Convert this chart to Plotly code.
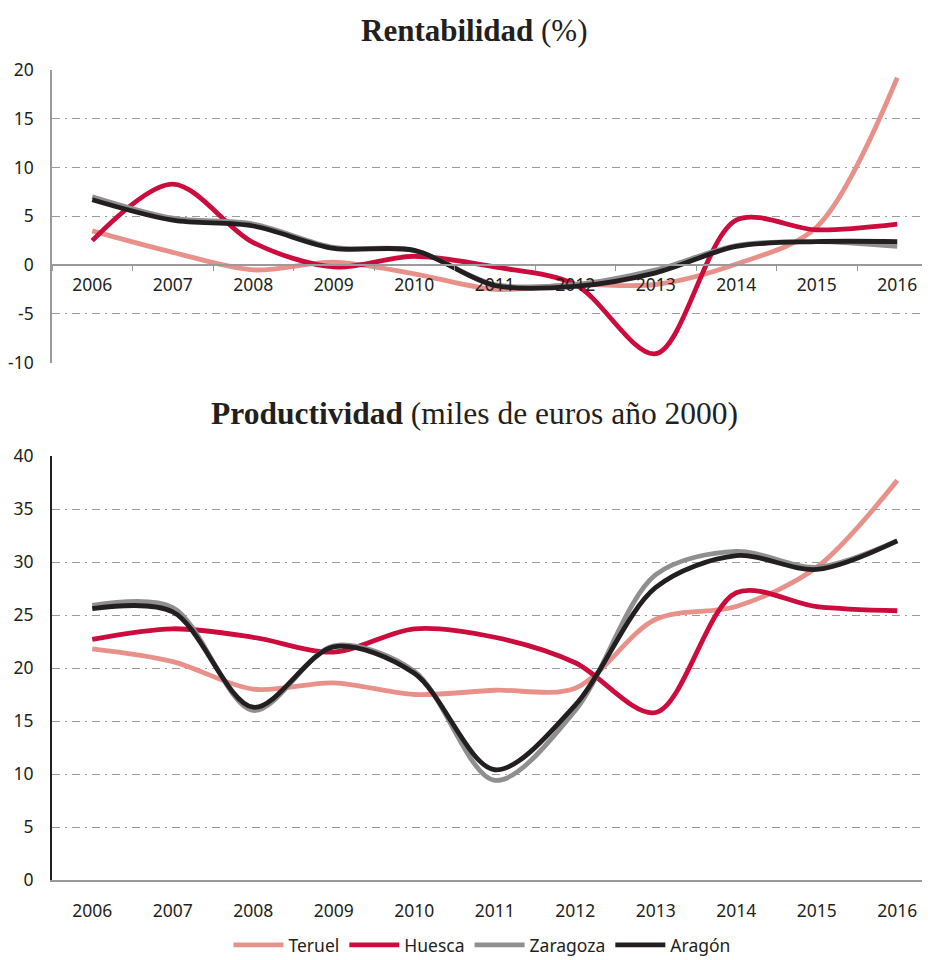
import plotly.graph_objects as go

years = ['2006', '2007', '2008', '2009', '2010', '2011', '2012', '2013', '2014', '2015', '2016']

# Rentabilidad (%)
rent_teruel = [3.5, 1.3, -0.5, 0.3, -0.9, -2.5, -2.0, -2.0, 0.1, 3.9, 19.2]
rent_huesca = [2.5, 8.3, 2.3, -0.2, 0.9, -0.2, -2.0, -9.1, 4.6, 3.6, 4.2]
rent_zaragoza = [7.0, 4.8, 4.2, 1.8, 1.5, -2.0, -2.0, -0.5, 2.0, 2.4, 1.9]
rent_aragon = [6.7, 4.6, 4.0, 1.7, 1.5, -2.1, -2.2, -0.8, 1.9, 2.4, 2.4]
rent_ticks = [-10, -5, 0, 5, 10, 15, 20]
rent_ticktext = ['-10', '-5', '0', '5', '10', '15', '20']

# Productividad (miles de euros año 2000)
prod_teruel = [21.8, 20.6, 18.0, 18.6, 17.5, 17.9, 18.1, 24.6, 25.8, 29.5, 37.7]
prod_huesca = [22.7, 23.7, 22.9, 21.5, 23.7, 22.9, 20.5, 15.8, 27.1, 25.8, 25.4]
prod_zaragoza = [25.9, 25.7, 16.0, 22.1, 19.7, 9.4, 16.0, 28.8, 31.0, 29.5, 32.0]
prod_aragon = [25.6, 25.3, 16.3, 22.0, 19.5, 10.4, 16.5, 27.6, 30.6, 29.3, 32.0]

names = ['Teruel', 'Huesca', 'Zaragoza', 'Aragón']
colors = ['#E8918B', '#CC0C3D', '#8F8F8F', '#231F20']

rent = [rent_teruel, rent_huesca, rent_zaragoza, rent_aragon]
prod = [prod_teruel, prod_huesca, prod_zaragoza, prod_aragon]

fig = go.Figure()
for i in range(4):
    fig.add_trace(go.Scatter(
        x=years, y=rent[i], name=names[i], mode='lines',
        line=dict(color=colors[i], width=4.8, shape='spline', smoothing=0.9),
        xaxis='x', yaxis='y', showlegend=False))
for i in range(4):
    fig.add_trace(go.Scatter(
        x=years, y=prod[i], name=names[i], mode='lines',
        line=dict(color=colors[i], width=4.8, shape='spline', smoothing=0.9),
        xaxis='x2', yaxis='y2', showlegend=True))

# page body has an 8px margin: lay out in page pixels, shifted by 8
OFF = 8
W = 930 - OFF
H = 960.0 - OFF


def py(y_page):
    return 1 - (y_page - OFF) / H


L = 52 - OFF
PW = W - L


def px(x_page):
    return (x_page - OFF - L) / PW


tick_font = dict(family='Noto Sans', size=17.5, color='#231F20')
grid = dict(showgrid=True, gridcolor='#9A9A9A', gridwidth=1.3, griddash='8px,5px,2px,5px')
xr = [-0.5, -0.5 + PW / 80.5]

fig.update_layout(
    width=W, height=int(H),
    margin=dict(l=L, r=0, t=0, b=0, autoexpand=False),
    paper_bgcolor='white', plot_bgcolor='white',
    showlegend=True,
    legend=dict(orientation='h', x=px(482), xanchor='center', y=py(945), yanchor='middle',
                font=dict(family='Noto Sans', size=17.5, color='#231F20'),
                itemwidth=50, tracegroupgap=0, bgcolor='rgba(0,0,0,0)'),
    xaxis=dict(type='category', range=xr, domain=[0, 1], anchor='free',
               position=py(265), showline=True, linecolor='#9A9A9A', linewidth=1.5,
               ticks='outside', tickson='boundaries', ticklen=5, tickcolor='#9A9A9A',
               tickfont=tick_font, ticklabelstandoff=4, showgrid=False, zeroline=False),
    yaxis=dict(domain=[py(362.5), py(70)], range=[-10, 20],
               tickvals=rent_ticks, ticktext=rent_ticktext,
               showline=True, linecolor='#9A9A9A', linewidth=1.5,
               tickfont=tick_font, ticklabelstandoff=13,
               zeroline=True, zerolinecolor='#9A9A9A', zerolinewidth=1.5, **grid),
    xaxis2=dict(type='category', range=xr, domain=[0, 1], anchor='y2',
                showline=True, linecolor='#9A9A9A', linewidth=1.5,
                ticks='', tickfont=tick_font, ticklabelstandoff=14,
                showgrid=False, zeroline=False),
    yaxis2=dict(domain=[py(880), py(456)], range=[0, 40], dtick=5,
                showline=True, linecolor='#231F20', linewidth=2,
                tickfont=tick_font, ticklabelstandoff=13,
                zeroline=False, **grid),
    annotations=[
        dict(text='<b>Rentabilidad</b> (%)', xref='paper', yref='paper',
             x=px(474), y=py(30), xanchor='center', yanchor='middle',
             showarrow=False, font=dict(family='Liberation Serif', size=31, color='#231F20')),
        dict(text='<b>Productividad</b> (miles de euros año 2000)', xref='paper', yref='paper',
             x=px(474), y=py(413), xanchor='center', yanchor='middle',
             showarrow=False, font=dict(family='Liberation Serif', size=31.5, color='#231F20')),
    ],
)

fig.write_html('out.html')
